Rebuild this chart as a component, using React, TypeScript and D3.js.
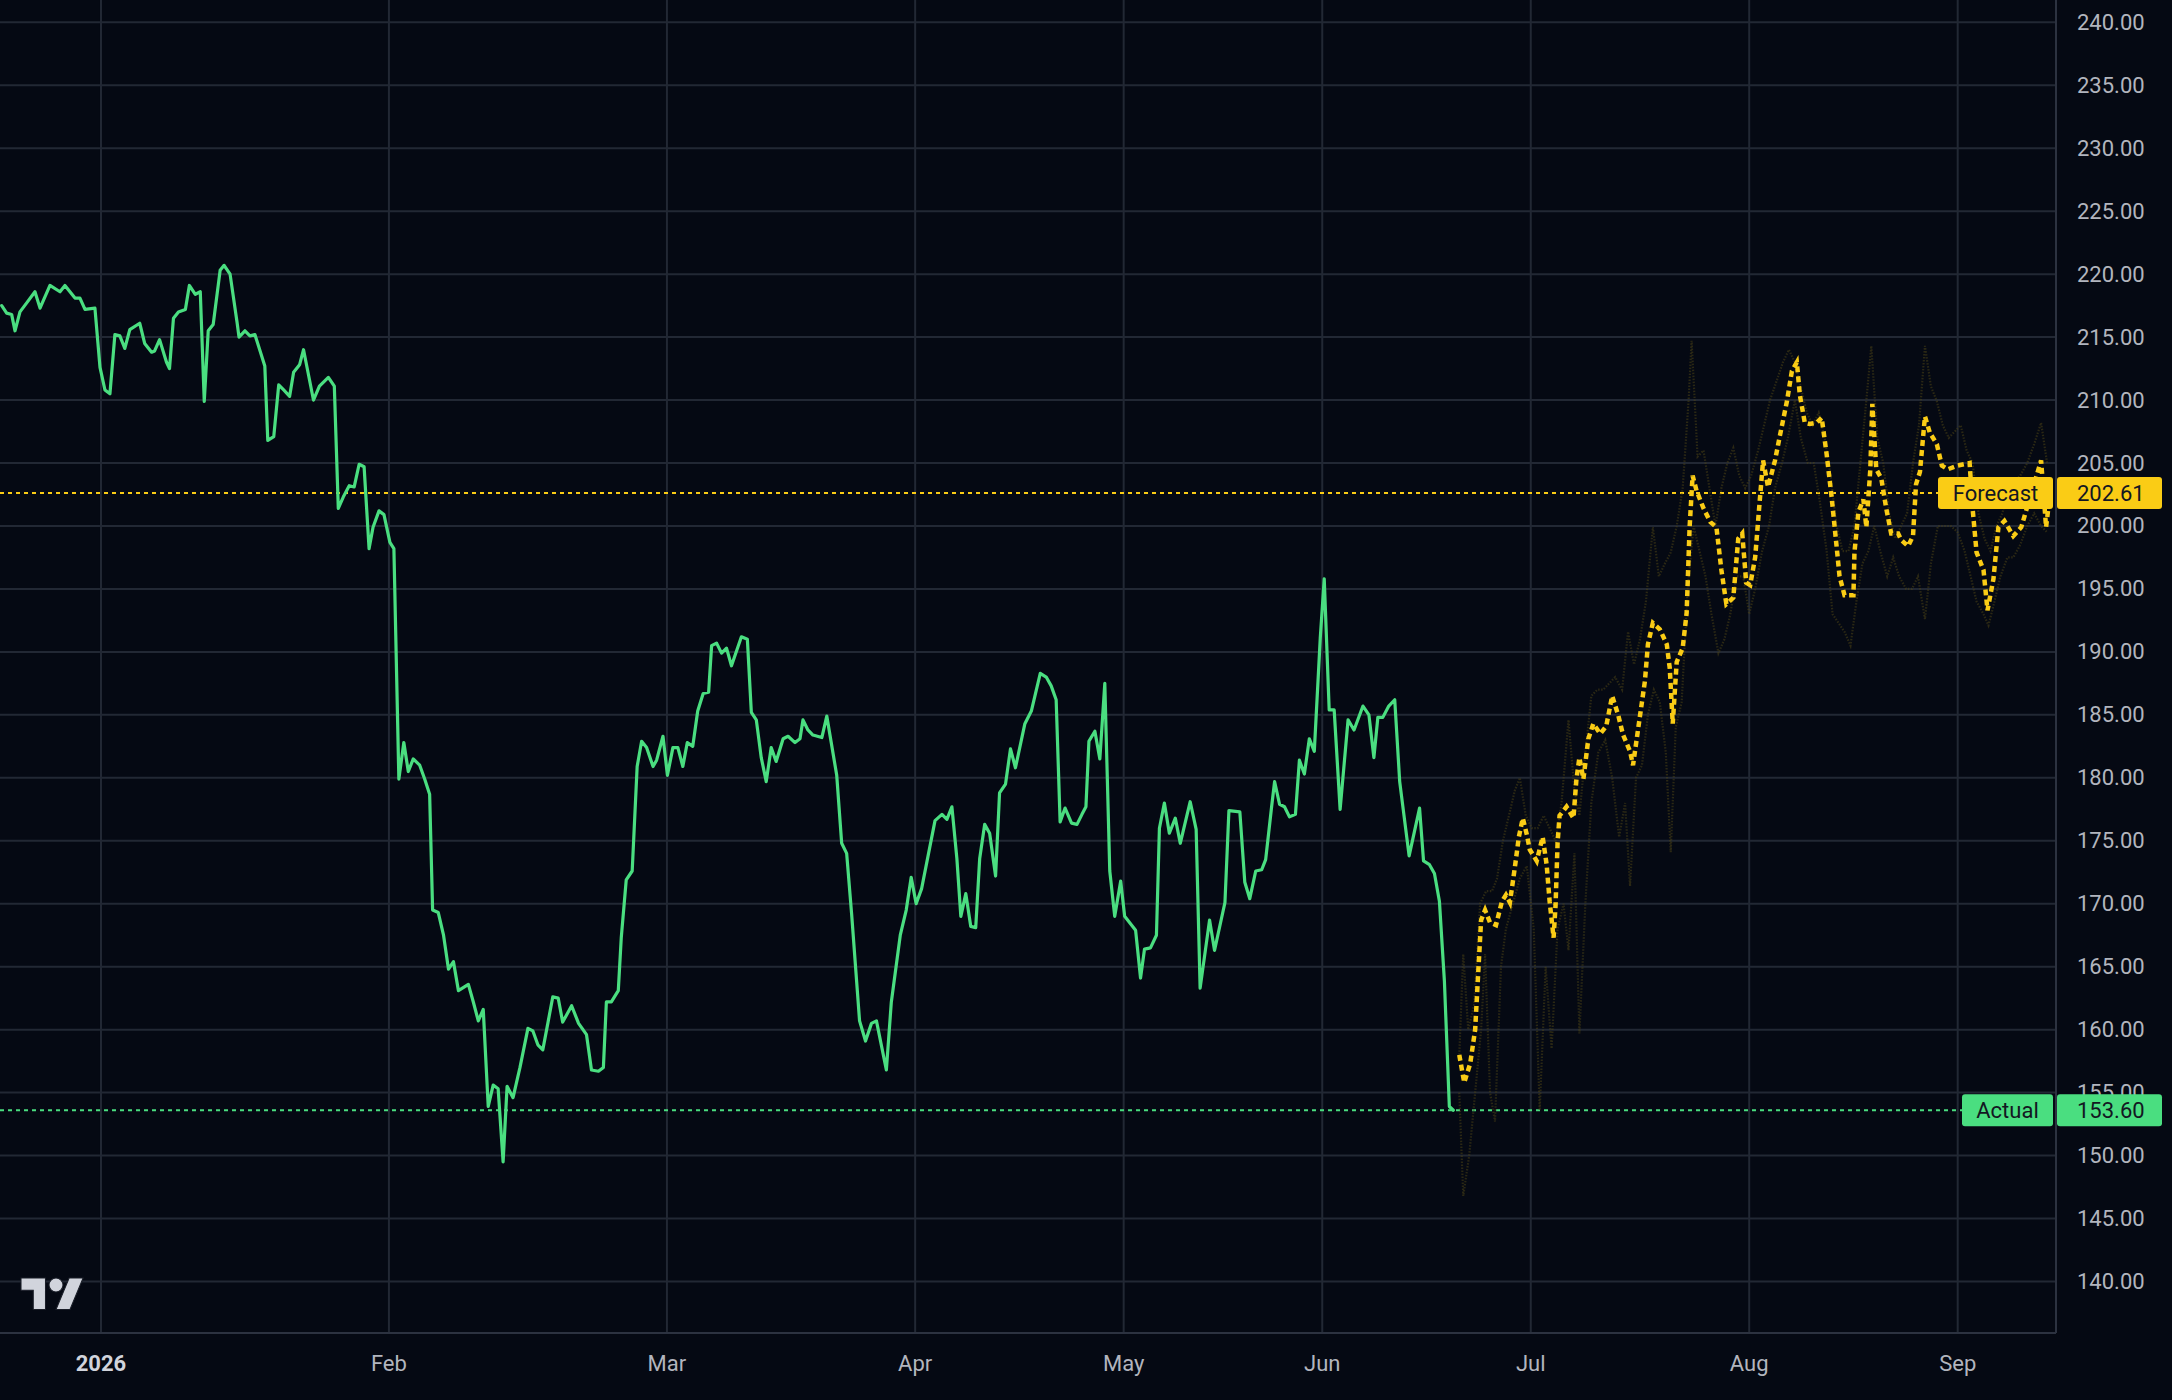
import React, { useMemo } from "react";
import * as d3 from "d3";

const WIDTH = 2172;
const HEIGHT = 1400;
const PLOT_RIGHT = 2056;
const PLOT_BOTTOM = 1333;

const BG = "#050913";
const GRID = "#222834";
const AXIS_LINE = "#2c3240";
const TEXT = "#b2b5be";
const GREEN = "#4ade80";
const YELLOW = "#facc15";
const FONT = "Roboto, 'Noto Sans', sans-serif";

// session index (x) / price pairs
const actual: [number, number][] = [
  [0, 217.5], [0.5, 216.9], [1.0, 216.8], [1.34, 215.5], [1.84, 217.0], [2.5, 217.7],
  [3.35, 218.6], [3.86, 217.3], [4.86, 219.1], [5.87, 218.6], [6.37, 219.1], [7.38, 218.1],
  [7.88, 218.1], [8.39, 217.2], [9.39, 217.3], [9.9, 212.6], [10.4, 210.8], [10.9, 210.5],
  [11.4, 215.2], [11.9, 215.1], [12.4, 214.1], [12.9, 215.6], [13.9, 216.1], [14.4, 214.5],
  [15.1, 213.8], [15.4, 213.9], [15.9, 214.8], [16.6, 213.0], [16.9, 212.5], [17.3, 216.5],
  [17.8, 217.0], [18.5, 217.2], [18.9, 219.1], [19.5, 218.4], [20.0, 218.6], [20.4, 209.9],
  [20.8, 215.5], [21.3, 216.0], [22.0, 220.3], [22.4, 220.7], [23.0, 220.0], [23.7, 216.2],
  [23.9, 215.0], [24.5, 215.5], [25.0, 215.1], [25.5, 215.2], [26.5, 212.7], [26.8, 206.8],
  [27.4, 207.1], [27.9, 211.2], [28.4, 210.8], [29.0, 210.3], [29.4, 212.2], [30.0, 212.8],
  [30.4, 214.0], [31.4, 210.0], [32.0, 211.1], [32.9, 211.8], [33.5, 211.1], [33.9, 201.4],
  [34.4, 202.3], [35.0, 203.2], [35.5, 203.1], [36.0, 204.9], [36.5, 204.7], [37.0, 198.2],
  [37.4, 199.9], [38.0, 201.2], [38.5, 200.9], [39.1, 198.7], [39.5, 198.2], [40.0, 179.9],
  [40.5, 182.8], [40.95, 180.5], [41.45, 181.5], [42.1, 181.0], [42.6, 179.9], [43.1, 178.7],
  [43.4, 169.5], [43.97, 169.3], [44.5, 167.5], [45.0, 164.8], [45.5, 165.4], [46.0, 163.1],
  [47.0, 163.6], [47.5, 162.2], [48.0, 160.7], [48.5, 161.6], [49.0, 153.9], [49.5, 155.6],
  [50.0, 155.3], [50.5, 149.5], [50.9, 155.5], [51.5, 154.6], [52.2, 157.0], [53.0, 160.1],
  [53.5, 159.9], [54.0, 158.8], [54.5, 158.4], [55.05, 160.7], [55.5, 162.6], [56.05, 162.5],
  [56.5, 160.6], [57.4, 161.9], [58.1, 160.5], [58.9, 159.6], [59.4, 156.8], [60.1, 156.7],
  [60.6, 157.0], [60.9, 162.2], [61.4, 162.2], [62.1, 163.1], [62.4, 167.3], [62.9, 171.9],
  [63.5, 172.6], [64.0, 180.9], [64.45, 182.9], [64.95, 182.4], [65.6, 180.9], [65.96, 181.4],
  [66.6, 183.3], [67.05, 180.2], [67.6, 182.4], [68.1, 182.4], [68.6, 180.9], [69.05, 182.8],
  [69.6, 182.5], [70.1, 185.3], [70.65, 186.7], [71.2, 186.8], [71.5, 190.5], [72.0, 190.7],
  [72.5, 189.9], [73.0, 190.3], [73.5, 188.9], [74.5, 191.2], [75.1, 191.0], [75.5, 185.2],
  [76.0, 184.6], [76.5, 181.6], [77.0, 179.7], [77.5, 182.4], [78.0, 181.3], [78.7, 183.1],
  [79.2, 183.3], [79.9, 182.8], [80.4, 183.1], [80.7, 184.6], [81.2, 183.8], [81.7, 183.4],
  [82.6, 183.2], [83.1, 184.9], [84.1, 180.2], [84.6, 174.8], [85.1, 174.0], [85.6, 169.2],
  [86.4, 160.7], [87.0, 159.1], [87.6, 160.5], [88.1, 160.7], [89.1, 156.8], [89.6, 162.2],
  [90.5, 167.5], [91.1, 169.5], [91.6, 172.1], [92.1, 170.0], [92.65, 171.2], [93.3, 173.8],
  [94.0, 176.6], [94.7, 177.1], [95.2, 176.7], [95.7, 177.7], [96.2, 173.6], [96.6, 169.0],
  [97.1, 170.8], [97.6, 168.2], [98.1, 168.1], [98.5, 173.6], [99.0, 176.3], [99.5, 175.6],
  [100.1, 172.2], [100.5, 178.8], [101.1, 179.5], [101.6, 182.3], [102.1, 180.8], [103.05, 184.3],
  [103.7, 185.3], [104.6, 188.3], [105.2, 188.0], [105.7, 187.3], [106.2, 186.2], [106.6, 176.5],
  [107.1, 177.6], [107.75, 176.4], [108.3, 176.3], [108.8, 177.1], [109.2, 177.7], [109.5, 182.9],
  [110.1, 183.7], [110.6, 181.5], [111.1, 187.5], [111.6, 172.6], [112.1, 169.0], [112.7, 171.8],
  [113.1, 169.0], [114.2, 167.9], [114.7, 164.1], [115.1, 166.4], [115.7, 166.5], [116.3, 167.5],
  [116.6, 176.0], [117.1, 178.0], [117.6, 175.6], [118.2, 176.8], [118.7, 174.8], [119.7, 178.1],
  [120.3, 175.9], [120.7, 163.3], [121.65, 168.7], [122.15, 166.3], [123.2, 170.1], [123.6, 177.4],
  [124.7, 177.3], [125.2, 171.7], [125.7, 170.4], [126.3, 172.6], [126.9, 172.7], [127.3, 173.5],
  [127.9, 177.7], [128.2, 179.7], [128.7, 177.9], [129.2, 177.7], [129.7, 176.9], [130.3, 177.1],
  [130.7, 181.4], [131.2, 180.3], [131.7, 183.1], [132.2, 182.1], [132.8, 191.1], [133.2, 195.8],
  [133.7, 185.4], [134.2, 185.4], [134.8, 177.5], [135.6, 184.6], [136.2, 183.8], [137.1, 185.7],
  [137.7, 185.0], [138.2, 181.6], [138.6, 184.8], [139.1, 184.8], [139.7, 185.7], [140.3, 186.2],
  [140.8, 179.7], [141.75, 173.8], [142.8, 177.6], [143.2, 173.4], [143.8, 173.1], [144.3, 172.4],
  [144.8, 170.2], [145.3, 163.9], [145.8, 153.9], [146.2, 153.6],
];

const forecast: [number, number][] = [
  [146.8, 158.0], [147.3, 155.8], [147.9, 157.3], [148.4, 160.0], [148.7, 164.4], [149.0, 168.7],
  [149.4, 169.5], [149.9, 168.5], [150.5, 168.3], [151.1, 170.2], [151.5, 170.7], [151.9, 170.1],
  [152.4, 172.9], [152.8, 175.3], [153.2, 176.8], [153.6, 175.5], [153.9, 174.3], [154.6, 173.4],
  [155.2, 175.3], [155.6, 173.1], [155.9, 170.2], [156.3, 167.3], [156.5, 169.9], [156.7, 174.8],
  [156.9, 177.0], [157.6, 177.7], [158.3, 176.8], [158.6, 179.9], [158.9, 181.6], [159.3, 179.9],
  [159.8, 183.1], [160.3, 184.3], [161.0, 183.5], [161.6, 184.1], [162.2, 186.5], [162.8, 185.0],
  [163.3, 183.4], [164.0, 182.1], [164.3, 181.0], [164.8, 183.8], [165.5, 187.7], [165.8, 190.6],
  [166.3, 192.3], [167.0, 191.8], [167.7, 190.6], [168.0, 188.7], [168.3, 184.3], [168.7, 189.2],
  [169.3, 190.3], [169.7, 193.1], [170.0, 199.9], [170.3, 204.0], [170.7, 202.8], [171.4, 201.4],
  [172.1, 200.3], [172.7, 199.9], [173.2, 196.5], [173.7, 193.8], [174.4, 194.3], [174.9, 199.0],
  [175.3, 199.4], [175.7, 195.5], [176.1, 195.3], [176.6, 197.5], [177.0, 201.4], [177.4, 205.2],
  [177.9, 203.1], [178.6, 205.2], [179.1, 207.2], [179.8, 209.9], [180.3, 212.3], [180.8, 213.0],
  [181.1, 210.4], [181.6, 208.2], [182.1, 208.1], [182.8, 208.2], [183.3, 208.6], [183.8, 205.7],
  [184.3, 202.3], [184.8, 198.4], [185.1, 196.0], [185.6, 194.5], [186.5, 194.5], [186.6, 197.9],
  [187.0, 201.1], [187.5, 202.1], [187.8, 199.9], [188.2, 204.5], [188.4, 209.7], [188.8, 204.5],
  [189.3, 203.8], [189.8, 201.4], [190.3, 199.4], [191.0, 199.4], [191.3, 198.9], [192.0, 198.4],
  [192.5, 199.2], [192.8, 203.3], [193.2, 204.3], [193.7, 208.7], [194.2, 207.4], [194.9, 206.5],
  [195.4, 204.8], [196.0, 204.5], [197.0, 204.8], [198.2, 205.0], [198.5, 201.4], [198.9, 197.9],
  [199.6, 196.5], [200.0, 193.3], [200.6, 195.8], [201.1, 199.9], [201.7, 200.4], [202.6, 199.2],
  [203.4, 199.9], [204.3, 202.3], [205.4, 205.2], [205.9, 199.9], [206.3, 202.6],
];

const upperBand: [number, number][] = [
  [146.8, 158], [147.2, 166], [147.7, 160], [148.3, 162], [148.9, 170], [149.5, 171],
  [150.1, 171], [150.6, 172], [151.2, 175], [151.8, 177], [152.4, 179], [152.9, 180],
  [153.5, 177], [154.1, 176], [154.7, 176], [155.3, 177], [155.9, 176], [156.5, 175],
  [157.1, 178], [157.8, 184.6], [158.4, 179], [158.9, 177], [159.5, 182], [160.1, 186.5],
  [160.7, 187], [161.3, 187], [161.9, 187.5], [162.5, 188], [163.2, 187], [163.8, 191.6],
  [164.4, 189], [165.0, 191], [165.6, 194], [166.3, 199.9], [166.9, 196], [167.5, 197],
  [168.1, 197.9], [168.7, 200], [169.3, 203], [169.9, 210], [170.2, 214.7], [170.8, 205.5],
  [171.4, 206], [172.0, 203], [172.6, 200], [173.2, 203], [173.8, 205], [174.4, 206.2],
  [175.0, 204], [175.6, 203], [176.2, 204], [176.9, 206], [177.5, 208], [178.1, 210],
  [178.8, 211.6], [179.4, 213], [180.0, 214], [180.6, 213], [181.2, 211], [181.8, 209],
  [182.4, 208], [183.0, 209], [183.6, 207], [184.2, 204], [184.8, 200], [185.4, 198],
  [186.0, 198], [186.6, 200], [187.2, 205], [187.8, 210], [188.3, 214.3], [188.9, 207],
  [189.5, 205], [190.1, 201], [190.7, 199], [191.3, 200], [191.9, 201], [192.5, 205],
  [193.1, 208], [193.7, 214.3], [194.3, 211.1], [194.9, 209.9], [195.5, 208], [196.1, 207],
  [196.7, 207.5], [197.3, 208], [197.9, 206], [198.5, 205], [199.1, 201], [199.7, 199],
  [200.3, 198], [200.9, 200], [201.5, 201], [202.1, 203], [202.7, 203.5], [203.3, 204],
  [204.0, 205], [204.7, 206.5], [205.4, 208.2], [206.0, 205],
];

const lowerBand: [number, number][] = [
  [146.8, 155], [147.2, 146.8], [147.8, 150], [148.4, 155], [149.0, 160], [149.4, 166],
  [149.9, 155], [150.4, 152.7], [151.0, 165], [151.5, 168], [152.2, 170], [152.9, 172],
  [153.6, 173], [154.3, 168], [154.9, 153.6], [155.5, 165], [156.1, 158.5], [156.7, 168],
  [157.3, 170], [157.8, 166.3], [158.4, 174], [158.9, 159.7], [159.5, 170], [160.1, 178],
  [160.8, 182], [161.5, 183], [162.2, 180], [162.9, 175.3], [163.5, 178], [164.0, 171.4],
  [164.6, 180], [165.2, 181], [165.8, 185], [166.4, 187], [167.0, 186], [167.6, 182],
  [168.1, 174.1], [168.6, 184], [169.2, 186], [169.8, 195], [170.4, 200], [171.0, 198],
  [171.6, 196], [172.2, 193], [172.9, 189.9], [173.5, 191], [174.1, 193], [174.7, 196],
  [175.4, 196], [176.0, 193], [176.6, 195], [177.3, 198], [178.0, 200], [178.6, 203],
  [179.3, 205], [179.9, 207], [180.6, 210], [181.2, 207], [181.9, 205], [182.5, 205],
  [183.1, 202], [183.8, 198], [184.4, 193], [185.0, 192.3], [185.6, 191.6], [186.2, 190.5],
  [186.8, 194], [187.4, 197], [188.0, 198], [188.6, 200], [189.2, 198], [189.9, 196],
  [190.5, 197.5], [191.1, 196], [191.8, 195], [192.4, 195], [193.0, 196], [193.7, 192.6],
  [194.3, 197], [195.0, 200], [195.6, 200], [196.3, 200], [197.0, 199.5], [197.7, 198],
  [198.3, 196], [198.9, 194], [199.6, 193], [200.1, 192.1], [200.7, 194], [201.3, 196],
  [202.0, 197.5], [202.6, 197.5], [203.3, 198.5], [204.0, 200], [204.7, 201], [205.4, 200],
  [206.0, 199.5],
];

const monthLabels = ["2026", "Feb", "Mar", "Apr", "May", "Jun", "Jul", "Aug", "Sep"];
const monthBars = [10, 39, 67, 92, 113, 133, 154, 176, 197];
const priceTicks = d3.range(140, 241, 5);

const lastForecast = 202.61;
const lastActual = 153.6;

const PriceTag = ({ y, label, value, color, labelWidth }: {
  y: number; label: string; value: number; color: string; labelWidth: number;
}) => (
  <g>
    <rect x={PLOT_RIGHT - 3 - labelWidth} y={y - 16} width={labelWidth} height={32} rx={3} fill={color} />
    <rect x={PLOT_RIGHT + 1} y={y - 16} width={105} height={32} rx={3} fill={color} />
    <text x={PLOT_RIGHT - 3 - labelWidth / 2} y={y} textAnchor="middle" dominantBaseline="central"
      fontSize={22} fill="#131722" fontFamily={FONT}>{label}</text>
    <text x={2077} y={y} dominantBaseline="central" fontSize={22} fill="#131722" fontFamily={FONT}>
      {d3.format(".2f")(value)}
    </text>
  </g>
);

export default function App() {
  const x = useMemo(() => d3.scaleLinear().domain([0, 206.9]).range([1.7, PLOT_RIGHT]), []);
  const y = useMemo(() => d3.scaleLinear().domain([140, 240]).range([1281.5, 22.3]), []);
  const line = d3.line<[number, number]>().x((d) => x(d[0])).y((d) => y(d[1]));

  return (
    <svg width={WIDTH} height={HEIGHT} style={{ position: "absolute", left: 0, top: 0, display: "block" }}>
      <defs>
        <clipPath id="plot">
          <rect x={0} y={0} width={PLOT_RIGHT} height={PLOT_BOTTOM} />
        </clipPath>
      </defs>
      <rect width={WIDTH} height={HEIGHT} fill={BG} />

      {/* grid */}
      {priceTicks.map((t) => (
        <line key={t} x1={0} x2={PLOT_RIGHT} y1={y(t)} y2={y(t)} stroke={GRID} strokeWidth={2} />
      ))}
      {monthBars.map((b) => (
        <line key={b} x1={x(b)} x2={x(b)} y1={0} y2={PLOT_BOTTOM} stroke={GRID} strokeWidth={2} />
      ))}

      {/* axes borders */}
      <line x1={0} x2={PLOT_RIGHT} y1={PLOT_BOTTOM} y2={PLOT_BOTTOM} stroke={AXIS_LINE} strokeWidth={2} />
      <line x1={PLOT_RIGHT} x2={PLOT_RIGHT} y1={0} y2={PLOT_BOTTOM} stroke={AXIS_LINE} strokeWidth={2} />

      <g clipPath="url(#plot)">
        {/* last value lines */}
        <line x1={0} x2={PLOT_RIGHT} y1={y(lastForecast)} y2={y(lastForecast)} stroke={YELLOW}
          strokeWidth={2} strokeDasharray="4 4" />
        <line x1={0} x2={PLOT_RIGHT} y1={y(lastActual)} y2={y(lastActual)} stroke={GREEN}
          strokeWidth={2} strokeDasharray="4 4" />

        <path d={line(upperBand) ?? ""} fill="none" stroke="#4a4216" strokeOpacity={0.55}
          strokeWidth={2.2} strokeDasharray="1.5 1.5" />
        <path d={line(lowerBand) ?? ""} fill="none" stroke="#4a4216" strokeOpacity={0.55}
          strokeWidth={2.2} strokeDasharray="1.5 1.5" />

        <path d={line(forecast) ?? ""} fill="none" stroke={YELLOW} strokeWidth={4.5}
          strokeDasharray="6 4" />
        <path d={line(actual) ?? ""} fill="none" stroke={GREEN} strokeWidth={3.2}
          strokeLinejoin="round" strokeLinecap="round" />
      </g>

      {/* logo */}
      <g transform="translate(21,1271) scale(1.75)" fill="#d1d4dc" stroke="#1a1e28" strokeWidth={0.6}>
        <path d="M14 22H7V11H0V4h14v18zM28 22h-8l7.5-18h8L28 22z" />
        <circle cx={20} cy={8} r={4} />
      </g>

      {/* price axis */}
      {priceTicks.map((t) => (
        <text key={t} x={2077} y={y(t)} dominantBaseline="central" fontSize={22} fill={TEXT}
          fontFamily={FONT}>{d3.format(".2f")(t)}</text>
      ))}

      {/* time axis */}
      {monthBars.map((b, i) => (
        <text key={b} x={x(b)} y={1363} textAnchor="middle" dominantBaseline="central"
          fontSize={22} fontFamily={FONT} fill={i === 0 ? "#d1d4dc" : TEXT}
          fontWeight={i === 0 ? 700 : 400}>{monthLabels[i]}</text>
      ))}

      <PriceTag y={y(lastForecast)} label="Forecast" value={lastForecast} color={YELLOW} labelWidth={115} />
      <PriceTag y={y(lastActual)} label="Actual" value={lastActual} color={GREEN} labelWidth={91} />
    </svg>
  );
}
